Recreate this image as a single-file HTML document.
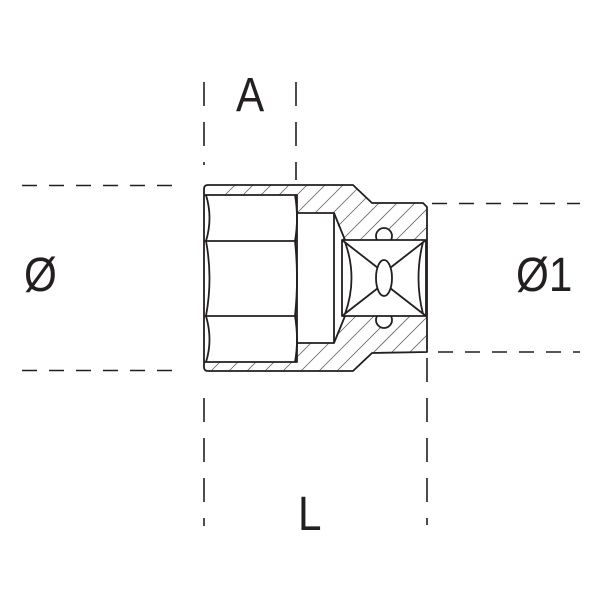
<!DOCTYPE html>
<html><head><style>
html,body{margin:0;padding:0;background:#fff;}
svg{display:block;}
text{font-family:"Liberation Sans",sans-serif;fill:#231f20;}
</style></head><body>
<svg width="600" height="600" viewBox="0 0 600 600" xmlns="http://www.w3.org/2000/svg">
<defs>
<clipPath id="hc">
<path clip-rule="evenodd" d="M204,189 Q204,185 208,185 L353,185 L372,203 L423,203 L427,207 L427,352 L372,353 L353,371 L208,371 Q204,371 204,367 Z
M204,195 L297,195 L297,213 L334,213 L342,240 L426,240 L426,316 L342,316 L334,343 L297,343 L297,362 L204,362 Z"/>
</clipPath>
</defs>
<g stroke="#231f20" stroke-width="1.6" stroke-dasharray="15 12" fill="none">
<line x1="22" y1="185.5" x2="182" y2="185.5"/>
<line x1="22" y1="370.5" x2="182" y2="370.5"/>
<line x1="432" y1="203.5" x2="580" y2="203.5"/>
<line x1="438" y1="352" x2="580" y2="352"/>
</g>
<g stroke="#231f20" stroke-width="1.6" stroke-dasharray="24 16" fill="none">
<line x1="204" y1="82" x2="204" y2="165"/>
<line x1="296" y1="82" x2="296" y2="180"/>
<line x1="204" y1="398" x2="204" y2="526"/>
<line x1="427" y1="358" x2="427" y2="525"/>
</g>
<g clip-path="url(#hc)" stroke="#666" stroke-width="0.8">
<path d="M0,420 l250,-250 M18,420 l250,-250 M36,420 l250,-250 M54,420 l250,-250 M72,420 l250,-250 M90,420 l250,-250 M108,420 l250,-250 M126,420 l250,-250 M144,420 l250,-250 M162,420 l250,-250 M180,420 l250,-250 M198,420 l250,-250 M216,420 l250,-250 M234,420 l250,-250 M252,420 l250,-250 M270,420 l250,-250 M288,420 l250,-250 M306,420 l250,-250 M324,420 l250,-250 M342,420 l250,-250 M360,420 l250,-250 M378,420 l250,-250 M396,420 l250,-250 M414,420 l250,-250"/>
</g>
<g stroke="#231f20" stroke-width="1.8" fill="none" stroke-linejoin="round">
<path d="M204,189 Q204,185 208,185 L353,185 L372,203 L423,203 L427,207 L427,352 L372,353 L353,371 L208,371 Q204,371 204,367 Z"/>
<path d="M204,195 L297,195 L297,362 L204,362"/>
<line x1="204" y1="241" x2="297" y2="241"/>
<line x1="204" y1="316" x2="297" y2="316"/>
<path d="M206,195 Q213,218 206,241 Q213,278 206,316 Q213,340 206,362"/>
<path d="M295,195 Q299,218 295,241 Q299,278 295,316 Q299,340 295,362"/>
<path d="M297,213 L334,213 L334,343 L297,343"/>
<path d="M334,213 L345,240 M334,343 L345,316"/>
<circle cx="384" cy="236" r="8" fill="#fff"/>
<circle cx="384" cy="320" r="8" fill="#fff"/>
<rect x="342" y="240" width="84" height="76" fill="#fff"/>
<path d="M345,242 Q358,278 345,314 M423,242 Q414,278 423,314"/>
<path d="M342,240 L378,268 M426,240 L390,268 M342,316 L378,288 M426,316 L390,288"/>
<ellipse cx="384" cy="278" rx="8" ry="18" fill="#fff"/>
</g>
<text x="236" y="111" font-size="48" transform="translate(236 0) scale(0.88 1) translate(-236 0)">A</text>
<text x="24" y="291" font-size="48" transform="translate(24 0) scale(0.88 1) translate(-24 0)">Ø</text>
<text x="516" y="291" font-size="48" transform="translate(516 0) scale(0.88 1) translate(-516 0)">Ø1</text>
<text x="298" y="530" font-size="48" transform="translate(298 0) scale(0.88 1) translate(-298 0)">L</text>
</svg>
</body></html>
